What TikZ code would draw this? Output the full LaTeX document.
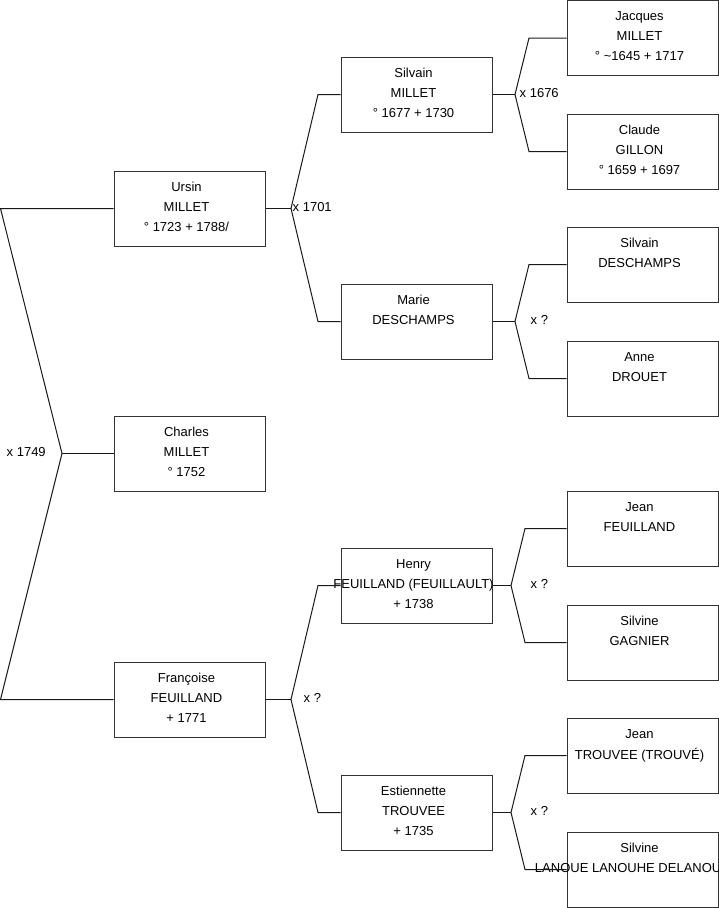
\documentclass[tikz,border=0pt]{standalone}
\usepackage{fontspec}
\setmainfont{Liberation Sans}
\newcommand\famline[1]{\hbox to 151pt{\hss\vrule height10pt depth10pt width0pt #1\hss\kern6pt}}
\newcommand\famtxt[3]{\vbox to 75pt{\offinterlineskip\vskip10pt\famline{#1}\famline{#2}\famline{#3}\vss}}
\begin{document}
\begin{tikzpicture}[x=1pt,y=-1pt,
  font=\fontsize{13}{20}\selectfont,
  box/.style={draw=black!80, line width=1pt, fill=white, inner sep=0pt, minimum width=151pt, minimum height=75pt},
  conn/.style={line width=1pt, draw=black!90},
  lab/.style={anchor=west, inner sep=0pt}]
\useasboundingbox (0,0) rectangle (719,908);
\clip (0,0) rectangle (719,908);
% generation 1
\node[box] (ursin) at (189.5,208.5) {\famtxt{Ursin}{MILLET}{° 1723 + 1788/}};
\node[box] (charles) at (189.5,453.5) {\famtxt{Charles}{MILLET}{° 1752}};
\node[box] (francoise) at (189.5,699.5) {\famtxt{Françoise}{FEUILLAND}{+ 1771}};
% generation 2
\node[box] (silvainM) at (416.5,94.5) {\famtxt{Silvain}{MILLET}{° 1677 + 1730}};
\node[box] (marie) at (416.5,321.5) {\famtxt{Marie}{DESCHAMPS}{}};
\node[box] (henry) at (416.5,585.5) {\famtxt{Henry}{FEUILLAND (FEUILLAULT)}{+ 1738}};
\node[box] (estiennette) at (416.5,812.5) {\famtxt{Estiennette}{TROUVEE}{+ 1735}};
% generation 3
\node[box] (jacques) at (642.5,38) {\famtxt{Jacques}{MILLET}{° \textasciitilde1645 + 1717}};
\node[box] (claude) at (642.5,151.5) {\famtxt{Claude}{GILLON}{° 1659 + 1697}};
\node[box] (silvainD) at (642.5,264.5) {\famtxt{Silvain}{DESCHAMPS}{}};
\node[box] (anne) at (642.5,378.5) {\famtxt{Anne}{DROUET}{}};
\node[box] (jeanF) at (642.5,528.5) {\famtxt{Jean}{FEUILLAND}{}};
\node[box] (silvineG) at (642.5,642.5) {\famtxt{Silvine}{GAGNIER}{}};
\node[box] (jeanT) at (642.5,755.5) {\famtxt{Jean}{TROUVEE (TROUVÉ)}{}};
\node[box] (silvineL) at (642.5,869.5) {\famtxt{Silvine}{LANOUE LANOUHE DELANOUE\kern14pt}{}};
% root fork
\coordinate (rA) at (0.5,208.5);
\coordinate (rV) at (62,453.5);
\coordinate (rB) at (0.5,699.5);
\draw[conn] (ursin.west) -- (rA) -- (rV) -- (rB) -- (francoise.west);
\draw[conn] (rV) -- (charles.west);
\node[lab] (l1749) at (6.5,452) {x 1749};
% Ursin fork
\coordinate (uV) at (291,208.5);
\coordinate (uA) at (318,94.5);
\coordinate (uB) at (318,321.5);
\draw[conn] (ursin.east) -- (uV);
\draw[conn] (silvainM.west) -- (uA) -- (uV) -- (uB) -- (marie.west);
\node[lab] (l1701) at (292.5,207) {x 1701};
% Francoise fork
\coordinate (fV) at (291,699.5);
\coordinate (fA) at (318,585.5);
\coordinate (fB) at (318,812.5);
\draw[conn] (francoise.east) -- (fV);
\draw[conn] (henry.west) -- (fA) -- (fV) -- (fB) -- (estiennette.west);
\node[lab] (lfq) at (303.5,698) {x ?};
% Silvain MILLET fork
\coordinate (sV) at (515,94.5);
\coordinate (sA) at (529,38);
\coordinate (sB) at (529,151.5);
\draw[conn] (silvainM.east) -- (sV);
\draw[conn] (jacques.west) -- (sA) -- (sV) -- (sB) -- (claude.west);
\node[lab] (l1676) at (519.5,93) {x 1676};
% Marie fork
\coordinate (mV) at (515,321.5);
\coordinate (mA) at (529,264.5);
\coordinate (mB) at (529,378.5);
\draw[conn] (marie.east) -- (mV);
\draw[conn] (silvainD.west) -- (mA) -- (mV) -- (mB) -- (anne.west);
\node[lab] (lmq) at (530.5,320) {x ?};
% Henry fork
\coordinate (hV) at (511,585.5);
\coordinate (hA) at (525,528.5);
\coordinate (hB) at (525,642.5);
\draw[conn] (henry.east) -- (hV);
\draw[conn] (jeanF.west) -- (hA) -- (hV) -- (hB) -- (silvineG.west);
\node[lab] (lhq) at (530.5,584) {x ?};
% Estiennette fork
\coordinate (eV) at (511,812.5);
\coordinate (eA) at (525,755.5);
\coordinate (eB) at (525,869.5);
\draw[conn] (estiennette.east) -- (eV);
\draw[conn] (jeanT.west) -- (eA) -- (eV) -- (eB) -- (silvineL.west);
\node[lab] (leq) at (530.5,811) {x ?};
\end{tikzpicture}
\end{document}
